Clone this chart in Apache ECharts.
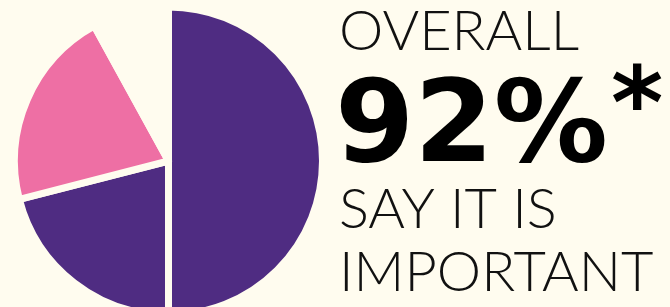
<!DOCTYPE html>
<html>
<head>
<meta charset="utf-8">
<script src="https://cdn.jsdelivr.net/npm/echarts@6/dist/echarts.min.js"></script>
<style>
  html, body { margin: 0; padding: 0; background: #fffcef; }
  #main { width: 670px; height: 307px; }
</style>
</head>
<body>
<div id="main"></div>
<script>
// slices clockwise from 12 o'clock
const categories = ['Very important', 'Quite important', 'Somewhat important', 'Not important'];
const values = [50, 21, 21, 8];
const colors = ['#4f2c82', '#4f2c82', '#ee6fa4', 'transparent'];

const headline = ['OVERALL', '92%', '*', 'SAY IT IS', 'IMPORTANT'];

const bg = '#fffcef';
const chart = echarts.init(document.getElementById('main'), null, { renderer: 'canvas' });

const pieData = categories.map((name, i) => ({
  name,
  value: values[i],
  itemStyle: { color: colors[i] }
}));

const light = '300 56px Lato';
const heavy = 'bold 114px "DejaVu Sans"';

chart.setOption({
  backgroundColor: bg,
  animation: false,
  series: [{
    type: 'pie',
    silent: true,
    center: [168.5, 161],
    radius: 154,
    startAngle: 90,
    clockwise: true,
    label: { show: false },
    labelLine: { show: false },
    itemStyle: { borderColor: bg, borderWidth: 7 },
    data: pieData
  }],
  graphic: [
    { type: 'text', left: 339, top: 4,
      style: { text: headline[0], font: light, fill: '#111' } },
    { type: 'text', left: 335, top: 74,
      style: { text: headline[1], font: heavy, fill: '#000' } },
    { type: 'text', left: 611, top: 62,
      style: { text: headline[2], font: 'bold 100px "DejaVu Sans"', fill: '#000' } },
    { type: 'text', left: 339, top: 182,
      style: { text: headline[3], font: light, fill: '#111' } },
    { type: 'text', left: 339, top: 245,
      style: { text: headline[4], font: light, fill: '#111' } }
  ]
});
</script>
</body>
</html>
